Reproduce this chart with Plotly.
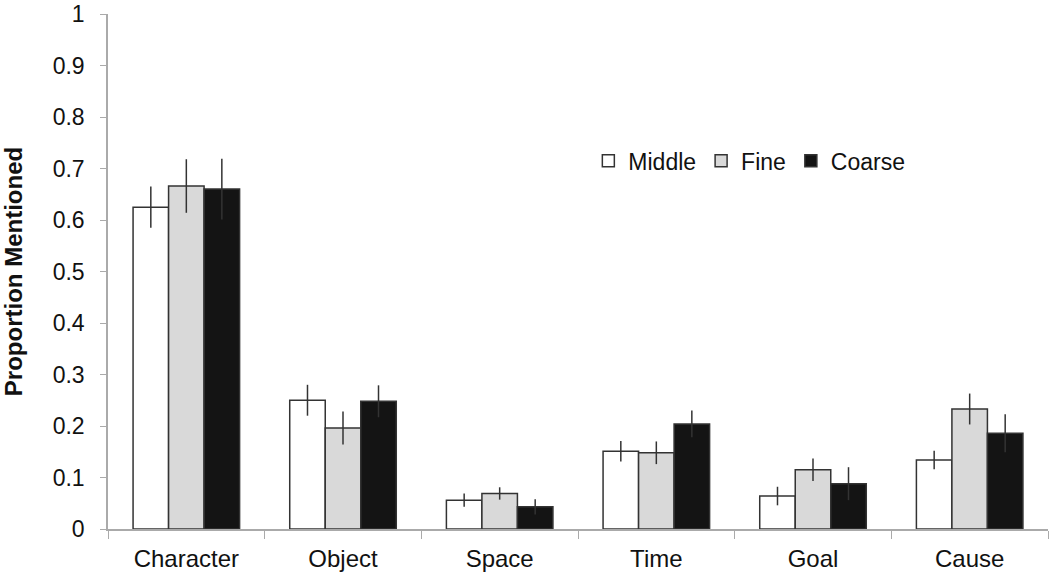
import plotly.graph_objects as go

categories = ["Character", "Object", "Space", "Time", "Goal", "Cause"]

middle = [0.625, 0.250, 0.056, 0.151, 0.064, 0.134]
middle_err = [0.040, 0.030, 0.013, 0.020, 0.018, 0.018]

fine = [0.666, 0.196, 0.069, 0.148, 0.115, 0.233]
fine_err = [0.052, 0.032, 0.012, 0.022, 0.022, 0.030]

coarse = [0.660, 0.248, 0.043, 0.204, 0.088, 0.186]
coarse_err = [0.059, 0.031, 0.015, 0.026, 0.032, 0.037]

series = [
    ("Middle", middle, middle_err, "#ffffff"),
    ("Fine", fine, fine_err, "#d9d9d9"),
    ("Coarse", coarse, coarse_err, "#141414"),
]

fig = go.Figure()
for name, vals, errs, color in series:
    fig.add_trace(go.Bar(
        x=categories, y=vals, name=name,
        marker=dict(color=color, line=dict(color="#333333", width=1.5)),
        error_y=dict(type="data", array=errs, visible=True, color="#333333", thickness=1.5, width=0),
    ))

font = "Liberation Sans, Arial, sans-serif"
fig.update_layout(
    width=1050, height=573,
    margin=dict(l=108, r=2, t=14, b=44),
    paper_bgcolor="white", plot_bgcolor="white",
    barmode="group", bargap=0.32, bargroupgap=0,
    font=dict(family=font, size=24, color="#111111"),
    legend=dict(
        orientation="h", x=0.511, y=0.715, xanchor="left", yanchor="middle",
        font=dict(size=23), itemwidth=30, bgcolor="rgba(0,0,0,0)",
    ),
    xaxis=dict(
        showline=True, linecolor="#aaaaaa", linewidth=1.5,
        ticks="outside", tickson="boundaries", ticklen=8, tickcolor="#aaaaaa",
        showgrid=False, automargin=False, ticklabelstandoff=7,
    ),
    yaxis=dict(
        range=[0, 1], dtick=0.1, showline=True, linecolor="#aaaaaa", linewidth=1.5,
        ticks="outside", ticklen=6, tickcolor="#aaaaaa", showgrid=False, zeroline=False,
        ticklabelstandoff=11, automargin=False, ticklabeloverflow="allow",
        tickfont=dict(size=23),
        title=dict(text="<b>Proportion Mentioned</b>", font=dict(size=24), standoff=29),
    ),
)

# drop the default 8px body margin so the figure fills the window exactly
fig.write_html(
    "out.html",
    config={"displayModeBar": False},
    post_script="document.body.style.margin = '0';",
)
